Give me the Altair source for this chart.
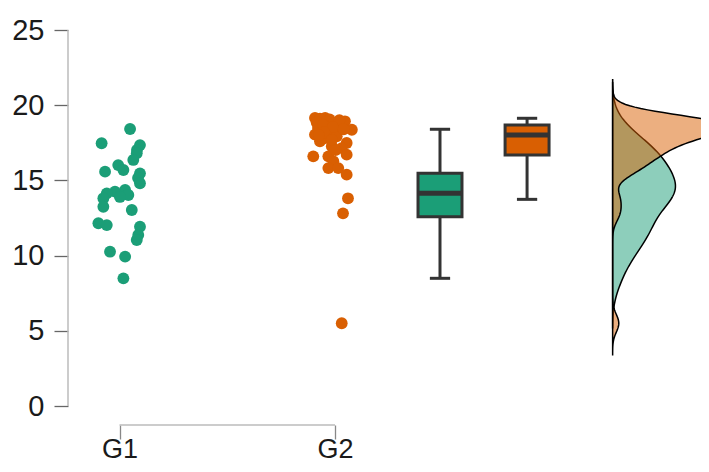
import altair as alt
import pandas as pd

# ---- data ----
groups = ["G1", "G2"]
colors = ["#1B9E77", "#D95F02"]

g1_x = [1.049, 0.917, 1.095, 1.081, 1.080, 1.064, 0.994, 1.018, 0.933, 1.095,
        1.086, 1.095, 1.026, 0.979, 0.941, 1.041, 1.002, 0.925, 0.925, 1.057,
        0.902, 0.941, 1.095, 1.087, 1.080, 0.956, 1.026, 1.018]
g1_y = [18.42, 17.47, 17.35, 17.02, 16.80, 16.36, 16.02, 15.69, 15.58, 15.47,
        15.16, 14.81, 14.36, 14.25, 14.14, 14.03, 13.90, 13.81, 13.25, 13.03,
        12.15, 12.03, 11.92, 11.37, 11.04, 10.26, 9.93, 8.49]

# G2 includes points hidden inside the dense top cluster
g2_x = [1.907, 1.954, 1.992, 2.046, 2.078, 1.907, 1.969, 2.008, 1.930, 2.054,
        1.985, 2.031, 1.899, 1.969, 2.054, 1.992, 1.969, 2.015, 2.054, 2.060,
        2.037, 2.031, 1.940, 1.921, 2.014, 1.954, 2.002,
        1.930, 1.975, 2.020, 1.960, 1.915, 1.945, 1.990, 2.040, 1.950, 1.925,
        1.985]
g2_y = [19.15, 19.15, 18.82, 18.93, 18.37, 18.04, 18.26, 17.93, 17.60, 17.49,
        17.27, 17.15, 16.60, 16.60, 16.71, 16.27, 15.82, 15.82, 15.38, 13.81,
        12.81, 5.50, 18.75, 18.48, 18.62, 17.82, 17.02,
        19.10, 19.05, 19.00, 18.90, 18.85, 18.70, 18.55, 18.40, 18.20, 18.00,
        17.70]

# boxplot summary
box_pos = [2.487, 2.891]
box_q1 = [12.59, 16.69]
box_med = [14.14, 18.02]
box_q3 = [15.47, 18.68]
box_lo = [8.49, 13.74]
box_hi = [18.40, 19.13]

# density settings
dens_base = 3.288
dens_scale = [2.0, 1.58]
dens_bw = [1.1, 0.58]
dens_extent = [[5.2, 21.7], [3.4, 21.5]]

y_ticks = [0, 5, 10, 15, 20, 25]

X_DOM = [0.761, 3.698]
Y_DOM = [-1.263, 26.064]

# ---- tables ----
pts = pd.DataFrame({
    "x": g1_x + g2_x,
    "y": g1_y + g2_y,
    "g": ["G1"] * len(g1_x) + ["G2"] * len(g2_x),
})
box = pd.DataFrame({
    "g": groups, "pos": box_pos, "q1": box_q1, "med": box_med,
    "q3": box_q3, "lo": box_lo, "hi": box_hi,
})
ylin = pd.DataFrame({"x": [X_DOM[0]], "a": [0], "b": [25]})
xlin = pd.DataFrame({"y": [Y_DOM[0]], "a": [1], "b": [2]})

FONT = "Liberation Sans"
W, H = 633, 411
xscale = alt.Scale(domain=X_DOM, nice=False, zero=False)
yscale = alt.Scale(domain=Y_DOM, nice=False, zero=False)
cscale = alt.Scale(domain=groups, range=colors)

xaxis = alt.Axis(values=[1, 2], labelExpr="datum.value == 1 ? 'G1' : 'G2'",
                 domain=False, grid=False, tickSize=14, tickColor="#888",
                 tickWidth=1.3, labelFont=FONT, labelFontSize=27,
                 labelColor="#1a1a1a", labelPadding=-3, title=None)
yaxis = alt.Axis(values=y_ticks, domain=False, grid=False, tickSize=14,
                 tickColor="#666", tickWidth=1.3, labelFont=FONT,
                 labelFontSize=29, labelColor="#1a1a1a", labelPadding=10,
                 title=None)


def X(field):
    return alt.X(field, scale=xscale, axis=xaxis)


def Y(field):
    return alt.Y(field, scale=yscale, axis=yaxis)


points = alt.Chart(pts).mark_circle(size=140, opacity=1).encode(
    x=X("x:Q"), y=Y("y:Q"),
    color=alt.Color("g:N", scale=cscale, legend=None),
)

# axis lines spanning only the tick range (R style)
yline = alt.Chart(ylin).mark_rule(color="#bbb", strokeWidth=1.5).encode(
    x=X("x:Q"), y=Y("a:Q"), y2="b:Q")
xline = alt.Chart(xlin).mark_rule(color="#bbb", strokeWidth=1.5).encode(
    x=X("a:Q"), x2="b:Q", y=Y("y:Q"))

bx = alt.Chart(box).transform_calculate(
    left="datum.pos - 0.102", right="datum.pos + 0.102",
    cl="datum.pos - 0.047", cr="datum.pos + 0.047")
whisk = bx.mark_rule(color="#333", strokeWidth=3).encode(
    x=X("pos:Q"), y=Y("lo:Q"), y2="hi:Q")
cap_lo = bx.mark_rule(color="#333", strokeWidth=3).encode(
    x=X("cl:Q"), x2="cr:Q", y=Y("lo:Q"))
cap_hi = bx.mark_rule(color="#333", strokeWidth=3).encode(
    x=X("cl:Q"), x2="cr:Q", y=Y("hi:Q"))
rect = bx.mark_rect(stroke="#333", strokeWidth=3).encode(
    x=X("left:Q"), x2="right:Q", y=Y("q1:Q"), y2="q3:Q",
    fill=alt.Fill("g:N", scale=cscale, legend=None))
median = bx.mark_rule(color="#333", strokeWidth=5).encode(
    x=X("left:Q"), x2="right:Q", y=Y("med:Q"))

dens_layers = []
for i, g in enumerate(groups):
    d = alt.Chart(pts).transform_filter(
        alt.datum.g == g
    ).transform_density(
        "y", as_=["yv", "dens"], bandwidth=dens_bw[i],
        extent=dens_extent[i], steps=200
    ).transform_calculate(
        xd=f"{dens_base} + datum.dens * {dens_scale[i]}",
        xb=f"{dens_base}"
    ).mark_area(orient="horizontal", clip=True, fillOpacity=0.5,
                stroke="black", strokeWidth=1.5, fill=colors[i]).encode(
        y=Y("yv:Q"), x=X("xd:Q"), x2="xb:Q",
    )
    dens_layers.append(d)

chart = alt.layer(
    yline, xline, points, whisk, cap_lo, cap_hi, rect, median, *dens_layers
).properties(
    width=W, height=H,
    autosize=alt.AutoSizeParams(type="none"),
    padding={"left": 60, "top": 6, "right": 0, "bottom": 39},
).configure_view(stroke=None)

chart.save("out.html", embed_options={"renderer": "svg", "actions": False})
